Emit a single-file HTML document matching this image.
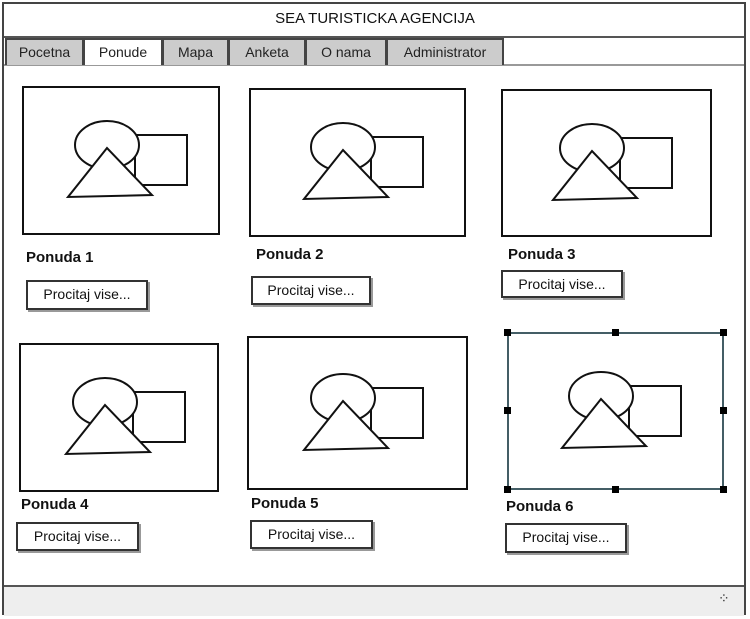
<!DOCTYPE html>
<html><head><style>
body{margin:0;width:750px;height:619px;background:#fff;position:relative;overflow:hidden;font-family:"Liberation Sans",sans-serif;}
.a{position:absolute;}
.tab{position:absolute;top:38px;height:27px;background:#ccc;border:2px solid #444;border-bottom:none;box-sizing:border-box;font-size:14px;text-align:center;line-height:24px;color:#222;}
.lbl{position:absolute;font-size:15px;font-weight:bold;color:#111;}
.btn{position:absolute;border:2px solid #333;box-shadow:2px 2px 0 #999;background:#fff;box-sizing:border-box;font-size:14px;text-align:center;line-height:25px;color:#111;}
</style></head><body>
<div class="a" style="left:2px;top:2px;width:744px;height:613px;border:2px solid #444;box-sizing:border-box;"></div>
<div class="a" style="left:0;top:10px;width:750px;text-align:center;font-size:15px;color:#111;">SEA TURISTICKA AGENCIJA</div>
<div class="a" style="left:4px;top:36px;width:740px;height:2px;background:#555;"></div>
<div class="a" style="left:4px;top:64px;width:740px;height:2px;background:#999;"></div>
<div class="tab" style="left:5px;width:79px;">Pocetna</div>
<div class="tab" style="left:83px;width:80px;background:#fff;">Ponude</div>
<div class="tab" style="left:162px;width:67px;">Mapa</div>
<div class="tab" style="left:228px;width:78px;">Anketa</div>
<div class="tab" style="left:305px;width:82px;">O nama</div>
<div class="tab" style="left:386px;width:118px;">Administrator</div>
<div class="a" style="left:4px;top:585px;width:740px;height:29px;background:#eee;border-top:2px solid #555;"></div>
<div class="a" style="left:718px;top:590px;font-size:14px;color:#333;">⁘</div>
<svg class="a" style="left:0;top:0" width="750" height="619">
<defs><g id="s" fill="none" stroke="#111" stroke-width="2">
<rect x="14" y="-25" width="52" height="50"/>
<ellipse cx="-14" cy="-15" rx="32" ry="24" fill="#fff"/>
<polygon points="-14,-12 -53,37 31,35" fill="#fff"/></g></defs>
<g fill="#fff" stroke="#111" stroke-width="2">
<rect x="23" y="87" width="196" height="147"/>
<rect x="250" y="89" width="215" height="147"/>
<rect x="502" y="90" width="209" height="146"/>
<rect x="20" y="344" width="198" height="147"/>
<rect x="248" y="337" width="219" height="152"/>
</g>
<rect x="508" y="333" width="215" height="156" fill="#fff" stroke="#7ab" stroke-width="2"/>
<rect x="508" y="333" width="215" height="156" fill="none" stroke="#111" stroke-width="1"/>
<g fill="#000"><rect x="504" y="329" width="7" height="7"/><rect x="612" y="329" width="7" height="7"/><rect x="720" y="329" width="7" height="7"/>
<rect x="504" y="407" width="7" height="7"/><rect x="720" y="407" width="7" height="7"/>
<rect x="504" y="486" width="7" height="7"/><rect x="612" y="486" width="7" height="7"/><rect x="720" y="486" width="7" height="7"/></g>
<use href="#s" x="121" y="160"/><use href="#s" x="357" y="162"/><use href="#s" x="606" y="163"/>
<use href="#s" x="119" y="417"/><use href="#s" x="357" y="413"/><use href="#s" x="615" y="411"/>
</svg>
<div class="lbl" style="left:26px;top:249px;">Ponuda 1</div>
<div class="lbl" style="left:256px;top:246px;">Ponuda 2</div>
<div class="lbl" style="left:508px;top:246px;">Ponuda 3</div>
<div class="lbl" style="left:21px;top:496px;">Ponuda 4</div>
<div class="lbl" style="left:251px;top:495px;">Ponuda 5</div>
<div class="lbl" style="left:506px;top:498px;">Ponuda 6</div>
<div class="btn" style="left:26px;top:280px;width:122px;height:30px;">Procitaj vise...</div>
<div class="btn" style="left:251px;top:276px;width:120px;height:29px;">Procitaj vise...</div>
<div class="btn" style="left:501px;top:270px;width:122px;height:28px;">Procitaj vise...</div>
<div class="btn" style="left:16px;top:522px;width:123px;height:29px;">Procitaj vise...</div>
<div class="btn" style="left:250px;top:520px;width:123px;height:29px;">Procitaj vise...</div>
<div class="btn" style="left:505px;top:523px;width:122px;height:30px;">Procitaj vise...</div>
</body></html>
